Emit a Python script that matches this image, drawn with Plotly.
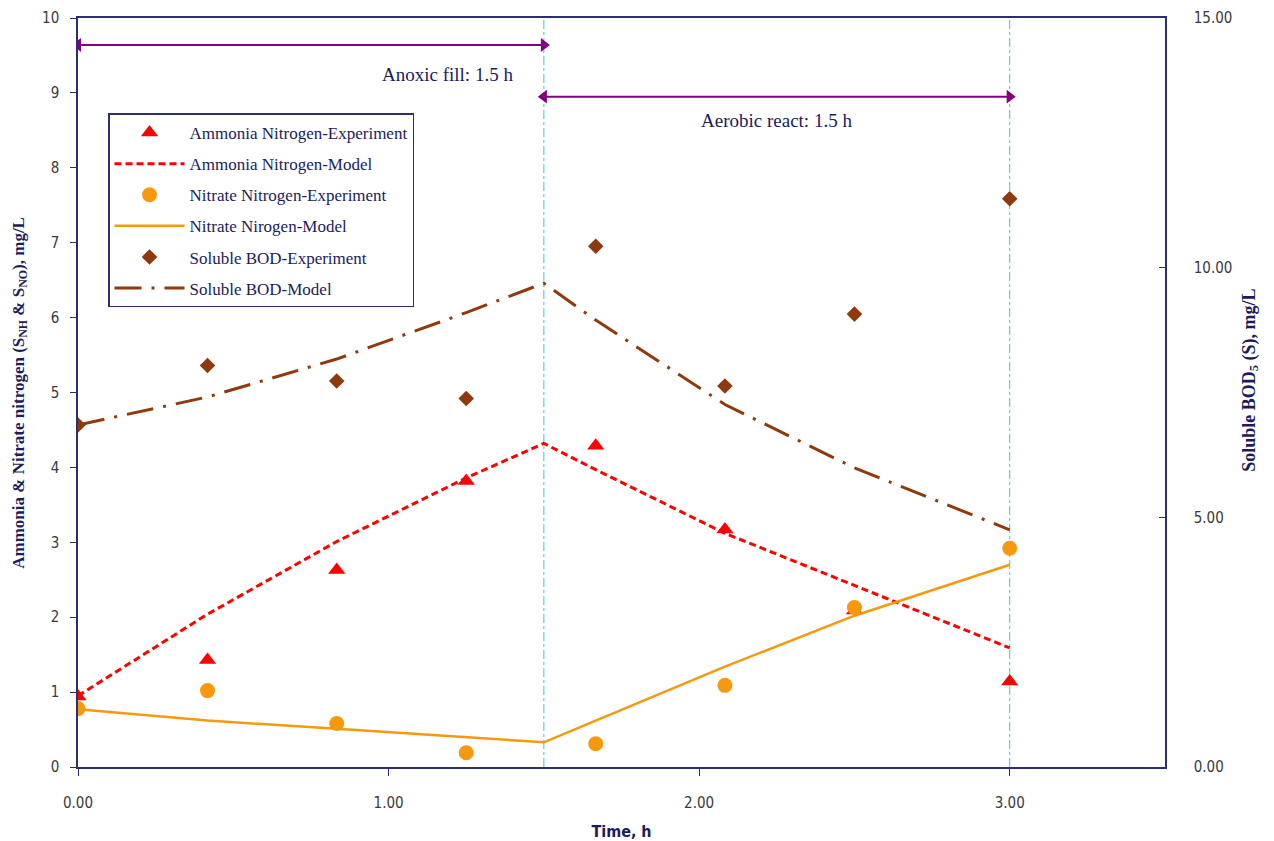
import plotly.graph_objects as go

# ---- data ----
t_exp = [0.0, 0.417, 0.833, 1.25, 1.667, 2.083, 2.5, 3.0]
ammonia_exp = [0.94, 1.43, 2.63, 3.82, 4.29, 3.17, 2.09, 1.14]
nitrate_exp = [0.78, 1.02, 0.58, 0.19, 0.31, 1.09, 2.13, 2.92]
bod_exp = [6.85, 8.04, 7.73, 7.38, 10.43, 7.63, 9.07, 11.38]

t_model = [0.0, 0.417, 0.833, 1.25, 1.5, 1.667, 2.083, 2.5, 3.0]
ammonia_model = [0.95, 2.04, 3.01, 3.86, 4.32, 3.97, 3.12, 2.42, 1.59]
nitrate_model = [0.77, 0.62, 0.51, 0.40, 0.33, 0.62, 1.34, 2.02, 2.70]
bod_model = [6.85, 7.41, 8.17, 9.10, 9.69, 8.95, 7.26, 5.99, 4.75]

# phases: start, end, arrow level (left axis units), label
phase_start = [0.0, 1.5]
phase_end = [1.5, 3.0]
phase_level = [9.64, 8.95]
phase_label = ["Anoxic fill: 1.5 h", "Aerobic react: 1.5 h"]
phase_label_x = [1.19, 2.25]
phase_label_y = [9.24, 8.63]
x_ticks = [0, 1, 2, 3]

NAVY = "#2e2e6e"
TXT = "#1c1c5a"
RED = "#ff0000"
ORANGE = "#f7990f"
BROWN = "#8f3a0c"
PURPLE = "#800080"
NARROW = "Liberation Sans Narrow, Arial Narrow, DejaVu Sans Condensed, sans-serif"
TICKFONT = dict(family=NARROW, size=15, color="#3a3a3a")
SERIF = "Liberation Serif, Times New Roman, serif"

fig = go.Figure()
fig.add_trace(go.Scatter(x=t_exp, y=ammonia_exp, mode="markers", name="Ammonia Nitrogen-Experiment",
                         legendgroup="a", marker=dict(symbol="triangle-up", size=15, color=RED)))
fig.add_trace(go.Scatter(x=t_model, y=ammonia_model, mode="lines", name="Ammonia Nitrogen-Model",
                         legendgroup="b", line=dict(color=RED, width=3, dash="7px,4px")))
fig.add_trace(go.Scatter(x=t_exp, y=nitrate_exp, mode="markers", name="Nitrate Nitrogen-Experiment",
                         legendgroup="c", marker=dict(symbol="circle", size=15, color=ORANGE)))
fig.add_trace(go.Scatter(x=t_model, y=nitrate_model, mode="lines", name="Nitrate Nirogen-Model",
                         legendgroup="d", line=dict(color=ORANGE, width=2.5)))
fig.add_trace(go.Scatter(x=t_exp, y=bod_exp, mode="markers", name="Soluble BOD-Experiment",
                         legendgroup="e", yaxis="y2",
                         marker=dict(symbol="diamond", size=12, color=BROWN)))
fig.add_trace(go.Scatter(x=t_model, y=bod_model, mode="lines", name="Soluble BOD-Model",
                         legendgroup="f", yaxis="y2",
                         line=dict(color=BROWN, width=3, dash="27px,10px,3px,10px")))

for xb in phase_end:
    fig.add_shape(type="line", xref="x", yref="paper", x0=xb, x1=xb, y0=0, y1=1,
                  line=dict(color="#33cccc", width=1, dash="dashdot"), layer="below")

# phase double-headed arrows
for x0, x1, lv, lab, lx, ly in zip(phase_start, phase_end, phase_level, phase_label,
                                   phase_label_x, phase_label_y):
    fig.add_trace(go.Scatter(x=[x0, x1], y=[lv, lv], mode="lines+markers", showlegend=False,
                             hoverinfo="skip", line=dict(color=PURPLE, width=2),
                             marker=dict(symbol=["triangle-left", "triangle-right"], size=12,
                                         color=PURPLE)))
    fig.add_annotation(x=lx, y=ly, xref="x", yref="y", text=lab, showarrow=False,
                       font=dict(family=SERIF, size=19, color=TXT))

# axis titles (placed as annotations for exact position)
fig.add_annotation(x=1.078, y=0.5166, xref="paper", yref="paper", xanchor="center", yanchor="middle",
                   text="<b>Soluble BOD<sub>5</sub> (S), mg/L</b>", showarrow=False, textangle=-90,
                   font=dict(family=SERIF, size=18, color=TXT))
fig.add_annotation(x=-0.054, y=0.5, xref="paper", yref="paper", xanchor="center", yanchor="middle",
                   text="<b>Ammonia &amp; Nitrate nitrogen (S<sub>NH</sub> &amp; S<sub>NO</sub>), mg/L</b>",
                   showarrow=False, textangle=-90,
                   font=dict(family=SERIF, size=17, color=TXT))

fig.update_layout(
    width=1266, height=833,
    margin=dict(l=70, r=109, t=10, b=74),
    paper_bgcolor="white", plot_bgcolor="white",
    showlegend=True,
    legend=dict(x=0.0276, y=0.8725, xanchor="left", yanchor="top",
                bgcolor="white", bordercolor=NAVY, borderwidth=1.5,
                font=dict(family=SERIF, size=17, color=TXT),
                traceorder="grouped", tracegroupgap=6, itemwidth=70),
    xaxis=dict(range=[0, 3.5], tickvals=x_ticks, tickformat=".2f", showgrid=False, zeroline=False,
               showline=True, linecolor=NAVY, linewidth=2, mirror=True, automargin=False,
               ticks="outside", ticklen=7, tickcolor=NAVY, ticklabelstandoff=14,
               ticklabeloverflow="allow", tickfont=TICKFONT,
               title=dict(text="<b>Time, h</b>", standoff=16,
                          font=dict(family=NARROW, size=16, color=TXT))),
    yaxis=dict(range=[0, 10], dtick=1, showgrid=False, zeroline=False, automargin=False,
               showline=True, linecolor=NAVY, linewidth=1.5, ticklabeloverflow="allow",
               ticks="outside", ticklen=6, tickcolor=NAVY, tickfont=TICKFONT, ticklabelstandoff=8),
    yaxis2=dict(range=[0, 15], dtick=5, tickformat=".2f", overlaying="y", side="right",
                automargin=False, ticklabeloverflow="allow",
                showgrid=False, zeroline=False, showline=True, linecolor=NAVY, linewidth=1.5,
                ticks="inside", ticklen=6, tickcolor=NAVY, tickfont=TICKFONT, ticklabelstandoff=24),
)

fig.write_html("out.html")
